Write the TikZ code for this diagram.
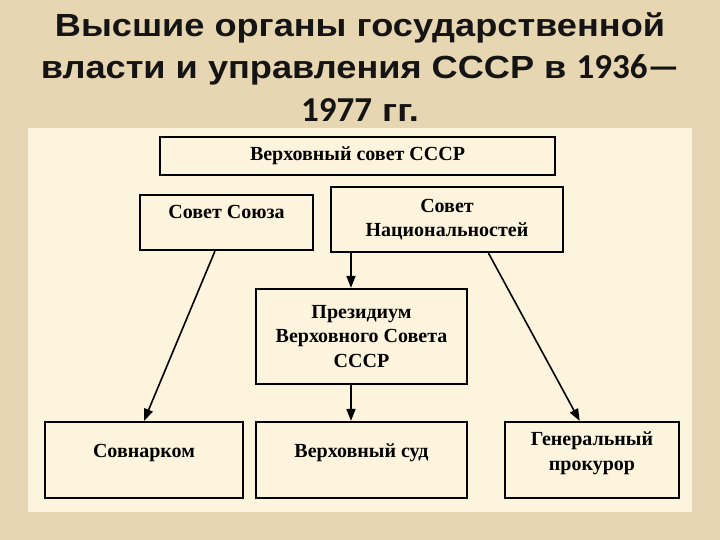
\documentclass[tikz,border=0pt]{standalone}
\usepackage{fontspec}
\setmainfont{Liberation Serif}
\newfontfamily\headfont[FakeStretch=1.13]{Liberation Sans}
\newfontfamily\digitfont{Carlito}
\newcommand{\yr}[1]{{\digitfont\fontsize{35}{42}\selectfont #1}}
\usetikzlibrary{arrows.meta,positioning,calc}
\definecolor{parchment}{HTML}{E6D6B1}
\definecolor{panelcream}{HTML}{FDF4DE}

\begin{document}
\begin{tikzpicture}[x=1pt,y=-1pt,>={Triangle[length=12pt,width=9pt]},
  organ/.style={draw=black,line width=2.2pt,align=center,inner sep=0pt,
    font=\bfseries\fontsize{20}{24.5}\selectfont},
  lowrow/.style={organ,minimum width=#1,minimum height=76pt,text depth=18pt},
  link/.style={->,line width=1.6pt}]
% background and sheet
\fill[parchment] (0,0) rectangle (720,540);
\fill[panelcream] (28,128) rectangle (692,512);
\node (title) at (360,67) [align=center,font=\headfont\bfseries\fontsize{32}{42.5}\selectfont,text=black!92]
  {Высшие органы государственной\\власти и управления СССР в \yr{1936—}\\\yr{1977} гг.};
% organs
\node (vs)    at (357.5,156)   [organ,minimum width=395pt,minimum height=38pt] {Верховный совет СССР};
\node (ss)    at (226.5,222.5) [organ,minimum width=173pt,minimum height=55pt,text depth=21pt] {Совет Союза};
\node (sn)    at (447,219.5)   [organ,minimum width=232pt,minimum height=65pt] {Совет\\Национальностей};
\node (prez)  at (361.5,336.5) [organ,minimum width=211pt,minimum height=95pt] {Президиум\\Верховного Совета\\СССР};
\node (snk)   at (144,460)     [lowrow=198pt] {Совнарком};
\node (court) at (361.5,460)   [lowrow=211pt] {Верховный суд};
\node (proc)  at (592,460)     [lowrow=174pt] {Генеральный\\прокурор};
% links
\coordinate (snl) at ($(sn.south west)!0.09!(sn.south east)$);
\draw[link] ($(ss.south west)!0.434!(ss.south east)$) -- (snk.north);
\draw[link] (snl) -- (snl |- prez.north);
\draw[link] ($(sn.south west)!0.677!(sn.south east)$) -- ($(proc.north west)!0.43!(proc.north east)$);
\draw[link] (prez.south -| snl) -- (court.north -| snl);
\end{tikzpicture}
\end{document}
